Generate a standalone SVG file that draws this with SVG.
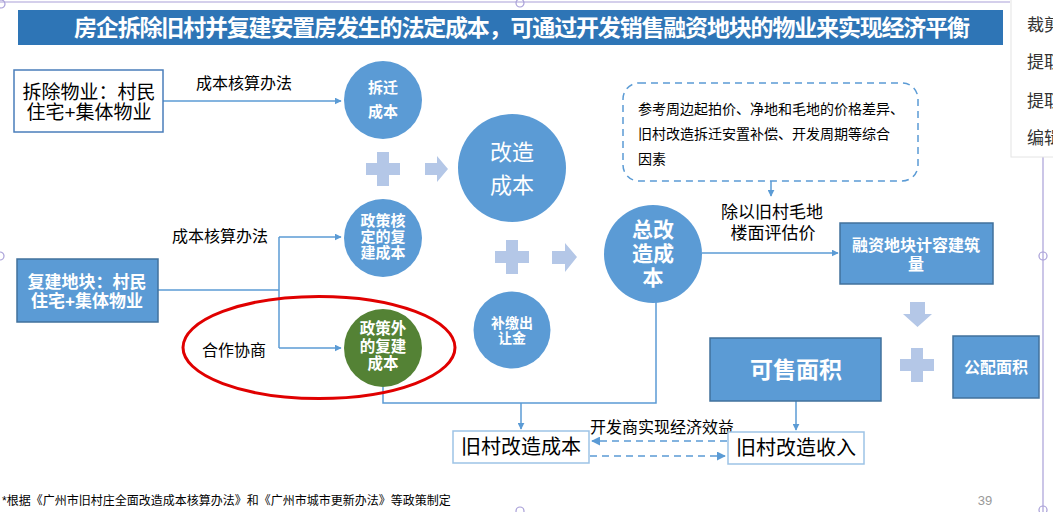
<svg xmlns="http://www.w3.org/2000/svg" width="1053" height="512" viewBox="0 0 1053 512">
<style>
text{font-family:"Liberation Sans","Noto Sans CJK SC",sans-serif}
.cw{fill:#fff;font-weight:bold;text-anchor:middle}
.bk{fill:#000;text-anchor:middle}
.circ{fill:#5B9BD5}
.conn{fill:none;stroke:#5B9BD5;stroke-width:1.5}
.deco{fill:#B4C7E7}
.bx{fill:#5B9BD5;stroke:#41719C;stroke-width:1.5}
.wb{fill:#fff;stroke:#9DC3E6;stroke-width:1.5}
.sel{stroke:#A9A0D8;stroke-width:1.2;fill:none}
</style>
<defs>
<marker id="ah" viewBox="0 0 10 10" refX="9" refY="5" markerWidth="7" markerHeight="7" orient="auto" markerUnits="userSpaceOnUse">
<path d="M0,0 L10,5 L0,10 z" fill="#5B9BD5"/>
</marker>
<marker id="ahb" viewBox="0 0 10 10" refX="9" refY="5" markerWidth="9" markerHeight="9" orient="auto" markerUnits="userSpaceOnUse">
<path d="M0,0 L10,5 L0,10 z" fill="#5B9BD5"/>
</marker>
</defs>
<rect width="1053" height="512" fill="#fff"/>

<!-- selection frame artifacts -->
<g id="selection">
<line class="sel" x1="0" y1="2" x2="1010" y2="2"/>
<line class="sel" x1="1043" y1="155" x2="1043" y2="512"/>
<circle class="sel" cx="520" cy="3" r="4" fill="#fff"/>
<circle class="sel" cx="1043" cy="256" r="4" fill="#fff"/>
<circle class="sel" cx="0" cy="256" r="4" fill="#fff"/>
<circle class="sel" cx="1" cy="4" r="4" fill="#fff"/>
<circle class="sel" cx="520" cy="511" r="4" fill="#fff"/>
<circle class="sel" cx="1043" cy="510" r="4" fill="#fff"/>
</g>

<g id="title">
<rect x="18" y="10" width="985" height="35" fill="#2E75B6"/>
<text x="522" y="36" class="cw" font-size="23" textLength="896" lengthAdjust="spacing">房企拆除旧村并复建安置房发生的法定成本，可通过开发销售融资地块的物业来实现经济平衡</text>
</g>

<g id="connectors">
<path class="conn" d="M163,101 H341" marker-end="url(#ah)"/>
<path class="conn" d="M158,290 H279"/>
<path class="conn" d="M279,237 V348"/>
<path class="conn" d="M279,237 H341" marker-end="url(#ah)"/>
<path class="conn" d="M279,348 H341" marker-end="url(#ah)"/>
<path class="conn" d="M383,387 V403 H656 V302"/>
<path class="conn" d="M521,403 V429" marker-end="url(#ah)"/>
<path class="conn" d="M702,253 H838" marker-end="url(#ah)"/>
<path class="conn" d="M771,181 V196" marker-end="url(#ah)"/>
<path class="conn" d="M796,401 V430" marker-end="url(#ah)"/>
<path class="conn" d="M727,441 H592" stroke-dasharray="7,5" stroke-width="2" marker-end="url(#ahb)"/>
<path class="conn" d="M590,456 H725" stroke-dasharray="7,5" stroke-width="2" marker-end="url(#ahb)"/>
<text x="244" y="89" class="bk" font-size="16">成本核算办法</text>
<text x="220" y="242" class="bk" font-size="16">成本核算办法</text>
<text x="234" y="356" class="bk" font-size="16">合作协商</text>
<text x="772" y="218" class="bk" font-size="17">除以旧村毛地</text>
<text x="773" y="239" class="bk" font-size="17">楼面评估价</text>
<text x="662" y="433" class="bk" font-size="16">开发商实现经济效益</text>
</g>

<g id="demolish-property">
<rect x="14" y="70" width="149" height="62" fill="#fff" stroke="#4A7EBB" stroke-width="1.5"/>
<text x="89" y="99" class="bk" font-size="19">拆除物业：村民</text>
<text x="89" y="119" class="bk" font-size="19">住宅+集体物业</text>
</g>

<g id="rebuild-plot">
<rect x="17" y="259" width="141" height="63" class="bx"/>
<text x="87" y="288" class="cw" font-size="17">复建地块：村民</text>
<text x="87" y="307" class="cw" font-size="17">住宅+集体物业</text>
</g>

<g id="relocation-cost">
<circle cx="383" cy="100" r="39" class="circ"/>
<text x="383" y="93" class="cw" font-size="15">拆迁</text>
<text x="383" y="117" class="cw" font-size="15">成本</text>
</g>

<g id="policy-rebuild-cost">
<circle cx="383" cy="238" r="39" class="circ"/>
<text x="383" y="226" class="cw" font-size="15">政策核</text>
<text x="383" y="242" class="cw" font-size="15">定的复</text>
<text x="383" y="258" class="cw" font-size="15">建成本</text>
</g>

<g id="extra-rebuild-cost">
<ellipse cx="319" cy="347.5" rx="136" ry="51" fill="none" stroke="#E00000" stroke-width="3"/>
<circle cx="383" cy="348" r="39" fill="#548235"/>
<text x="383" y="334" class="cw" font-size="15.5">政策外</text>
<text x="383" y="352" class="cw" font-size="15.5">的复建</text>
<text x="383" y="369" class="cw" font-size="15.5">成本</text>
</g>

<g id="renovation-cost">
<circle cx="512" cy="168" r="54" class="circ"/>
<text x="512" y="160" class="cw" font-size="22" style="font-weight:normal">改造</text>
<text x="512" y="193" class="cw" font-size="22" style="font-weight:normal">成本</text>
</g>

<g id="land-premium">
<circle cx="512" cy="330" r="38.5" class="circ"/>
<text x="512" y="328" class="cw" font-size="14">补缴出</text>
<text x="512" y="343" class="cw" font-size="14">让金</text>
</g>

<g id="total-cost">
<circle cx="653" cy="254" r="49" class="circ"/>
<text x="653" y="237" class="cw" font-size="21">总改</text>
<text x="653" y="261" class="cw" font-size="21">造成</text>
<text x="653" y="285" class="cw" font-size="21">本</text>
</g>

<g id="reference-note">
<rect x="623" y="83" width="295" height="98" rx="16" fill="#fff" stroke="#5B9BD5" stroke-width="1.5" stroke-dasharray="7,5"/>
<text x="638" y="114" font-size="14" fill="#000">参考周边起拍价、净地和毛地的价格差异、</text>
<text x="638" y="139" font-size="14" fill="#000">旧村改造拆迁安置补偿、开发周期等综合</text>
<text x="638" y="164" font-size="14" fill="#000">因素</text>
</g>

<g id="financing-plot-area">
<rect x="840" y="223" width="153" height="61" class="bx"/>
<text x="916" y="251" class="cw" font-size="16">融资地块计容建筑</text>
<text x="916" y="270" class="cw" font-size="16">量</text>
</g>

<g id="saleable-area">
<rect x="710" y="338" width="171" height="63" class="bx"/>
<text x="796" y="378" class="cw" font-size="23">可售面积</text>
</g>

<g id="public-area">
<rect x="953" y="336" width="86" height="62" class="bx"/>
<text x="996" y="373" class="cw" font-size="16">公配面积</text>
</g>

<g id="old-village-cost">
<rect x="453" y="431" width="136" height="32" class="wb"/>
<text x="521" y="454" class="bk" font-size="20">旧村改造成本</text>
</g>

<g id="old-village-income">
<rect x="728" y="432" width="136" height="32" class="wb"/>
<text x="796" y="455" class="bk" font-size="20">旧村改造收入</text>
</g>

<g id="operators">
<path class="deco" d="M377,152 h12 v11 h11 v12 h-11 v11 h-12 v-11 h-11 v-12 h11 z"/>
<path class="deco" d="M425,163 h12 v-7 l11,13 l-11,13 v-7 h-12 z"/>
<path class="deco" d="M506,240 h12 v11 h11 v12 h-11 v11 h-12 v-11 h-11 v-12 h11 z"/>
<path class="deco" d="M552,251 h13 v-8 l12,14 l-12,15 v-8 h-13 z"/>
<path class="deco" d="M911,348 h12 v11 h11 v12 h-11 v11 h-12 v-11 h-11 v-12 h11 z"/>
<path class="deco" d="M910,302 h15 v12 h7 l-14.5,13 l-14.5,-13 h7 z"/>
</g>

<g id="footer">
<text x="2" y="505" font-size="12" fill="#000">*根据《广州市旧村庄全面改造成本核算办法》和《广州市城市更新办法》等政策制定</text>
<text x="985" y="505" font-size="13" fill="#999" text-anchor="middle">39</text>
</g>

<g id="context-menu">
<rect x="1011" y="-2" width="50" height="159" fill="#fff" stroke="#e4e4e4" stroke-width="1"/>
<text x="1027" y="31" font-size="17" fill="#333">裁剪</text>
<text x="1027" y="68" font-size="17" fill="#333">提取</text>
<text x="1027" y="107" font-size="17" fill="#333">提取</text>
<text x="1027" y="144" font-size="17" fill="#333">编辑</text>
</g>
</svg>
